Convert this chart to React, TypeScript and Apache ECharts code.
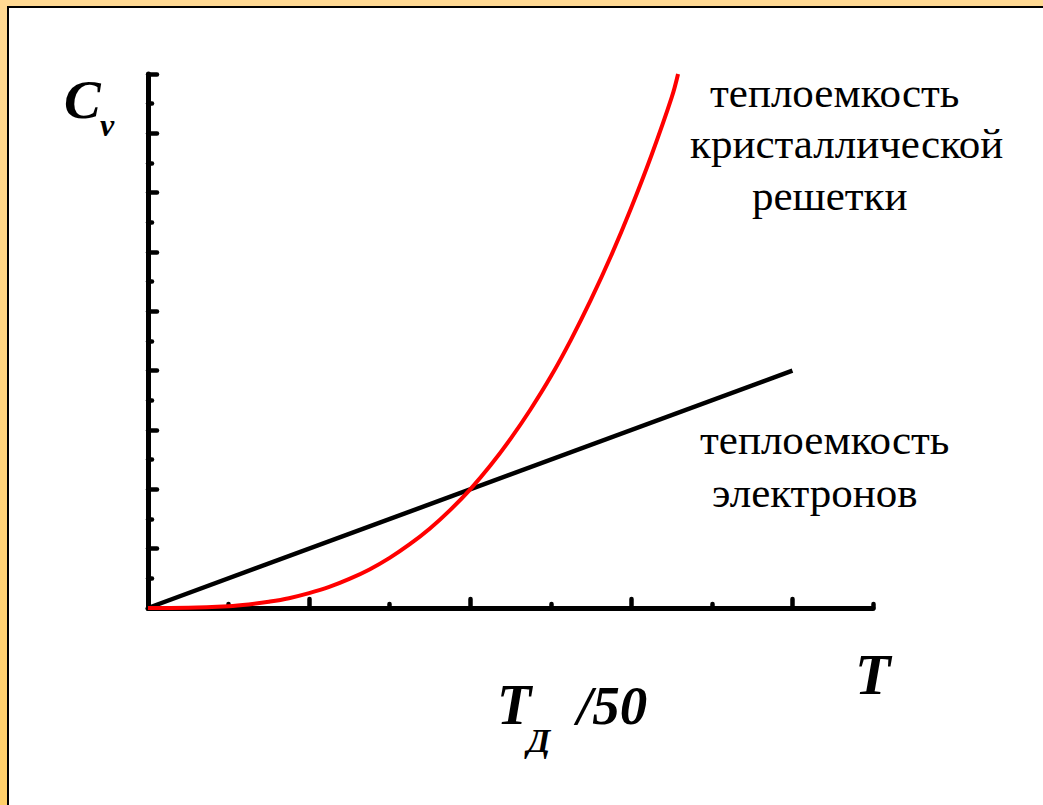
import React, { useEffect, useRef } from "react";
import * as echarts from "echarts";

// Data (arbitrary units: x in tick steps, y in tick steps)
const X_MAJOR_TICKS = [0, 2, 4, 6, 8];
const X_MINOR_TICKS = [1, 3, 5, 7, 9];
const Y_MAJOR_TICKS = [0, 2, 4, 6, 8, 10, 12, 14, 16, 18];
const Y_MINOR_TICKS = [1, 3, 5, 7, 9, 11, 13, 15, 17];

// electron heat capacity (straight line)
const ELECTRON_T = [0, 8];
const ELECTRON_C = [0, 8];

// lattice heat capacity (steep curve)
const LATTICE_T = [0, 0.5, 1, 1.25, 1.5, 1.75, 2, 2.25, 2.5, 2.75, 3, 3.25, 3.5, 3.75, 4, 4.25, 4.5, 4.75, 5, 5.25, 5.5, 5.75, 6, 6.25, 6.5, 6.58];
const LATTICE_C = [0, 0.008, 0.06, 0.12, 0.21, 0.33, 0.5, 0.71, 0.98, 1.3, 1.69, 2.15, 2.68, 3.3, 4, 4.8, 5.7, 6.7, 7.8, 9.04, 10.4, 11.88, 13.5, 15.26, 17.2, 18];

const LABEL_LATTICE = ["теплоемкость", "кристаллической", "решетки"];
const LABEL_ELECTRON = ["теплоемкость", "электронов"];

const SERIF = "'Liberation Serif', 'Times New Roman', serif";

export default function App() {
  const ref = useRef<HTMLDivElement>(null);

  useEffect(() => {
    if (!ref.current) return;
    const chart = echarts.init(ref.current, null, { renderer: "svg" });

    const tickStyle = { color: "#000", width: 4.5, cap: "round" };
    const axisLineStyle = { color: "#000", width: 5, cap: "round" };

    const xBase = {
      type: "value",
      min: 0,
      max: 9,
      interval: 1,
      position: "bottom",
      axisLabel: { show: false },
      splitLine: { show: false },
    };
    const yBase = {
      type: "value",
      min: 0,
      max: 18,
      interval: 2,
      position: "left",
      axisLabel: { show: false },
      splitLine: { show: false },
    };

    const text = (
      str: string,
      x: number,
      y: number,
      size: number,
      bold: boolean,
      italic: boolean
    ) => ({
      type: "text",
      x,
      y,
      style: {
        text: str,
        fill: "#000",
        fontFamily: SERIF,
        fontSize: size,
        fontWeight: bold ? "bold" : "normal",
        fontStyle: italic ? "italic" : "normal",
        textAlign: "left",
        verticalAlign: "middle",
      },
    });

    const latticeLeft = [710, 690, 752];
    const latticeY = [92, 143, 195];
    const electronLeft = [700, 712];
    const electronY = [439, 492];

    chart.setOption({
      animation: false,
      backgroundColor: "#ffffff",
      grid: { left: 148, right: 170, top: 74, bottom: 197, containLabel: false },
      xAxis: [
        {
          ...xBase,
          axisLine: { show: true, onZero: false, lineStyle: axisLineStyle },
          axisTick: { show: true, inside: true, length: 9, customValues: X_MAJOR_TICKS, lineStyle: tickStyle },
        },
        {
          ...xBase,
          axisLine: { show: false },
          axisTick: { show: true, inside: true, length: 4, customValues: X_MINOR_TICKS, lineStyle: tickStyle },
        },
      ],
      yAxis: [
        {
          ...yBase,
          axisLine: { show: true, onZero: false, lineStyle: axisLineStyle },
          axisTick: { show: true, inside: true, length: 9, customValues: Y_MAJOR_TICKS, lineStyle: tickStyle },
        },
        {
          ...yBase,
          axisLine: { show: false },
          axisTick: { show: true, inside: true, length: 4, customValues: Y_MINOR_TICKS, lineStyle: tickStyle },
        },
      ],
      series: [
        {
          type: "line",
          xAxisIndex: 0,
          yAxisIndex: 0,
          data: ELECTRON_T.map((t, i) => [t, ELECTRON_C[i]]),
          showSymbol: false,
          symbol: "none",
          lineStyle: { color: "#000", width: 4.5 },
          z: 3,
        },
        {
          type: "line",
          xAxisIndex: 0,
          yAxisIndex: 0,
          data: LATTICE_T.map((t, i) => [t, LATTICE_C[i]]),
          smooth: 0.4,
          showSymbol: false,
          symbol: "none",
          clip: false,
          lineStyle: { color: "#ff0000", width: 4 },
          z: 4,
        },
      ],
      graphic: [
        // frame
        { type: "rect", shape: { x: 0, y: 0, width: 1043, height: 6 }, style: { fill: "#FFD993" }, silent: true },
        {
          type: "rect",
          shape: { x: 0, y: 0, width: 7, height: 805 },
          style: {
            fill: new echarts.graphic.LinearGradient(0, 0, 0, 1, [
              { offset: 0, color: "#FFD993" },
              { offset: 1, color: "#FFCF69" },
            ]),
          },
          silent: true,
        },
        { type: "rect", shape: { x: 7, y: 6, width: 1036, height: 2 }, style: { fill: "#000" }, silent: true },
        { type: "rect", shape: { x: 7, y: 6, width: 2, height: 799 }, style: { fill: "#000" }, silent: true },
        // axis titles
        text("C", 64, 99, 55, true, true),
        text("v", 100, 125, 32, true, true),
        text("T", 855, 674, 58, true, true),
        text("T", 497, 705, 56, true, true),
        text("Д", 527, 740, 34, true, true),
        text("/50", 577, 705, 55, true, true),
        // curve labels
        ...LABEL_LATTICE.map((s, i) => text(s, latticeLeft[i], latticeY[i], 43, false, false)),
        ...LABEL_ELECTRON.map((s, i) => text(s, electronLeft[i], electronY[i], 43, false, false)),
      ],
    });

    return () => chart.dispose();
  }, []);

  return (
    <div
      ref={ref}
      style={{ position: "fixed", left: 0, top: 0, width: 1043, height: 805 }}
    />
  );
}
